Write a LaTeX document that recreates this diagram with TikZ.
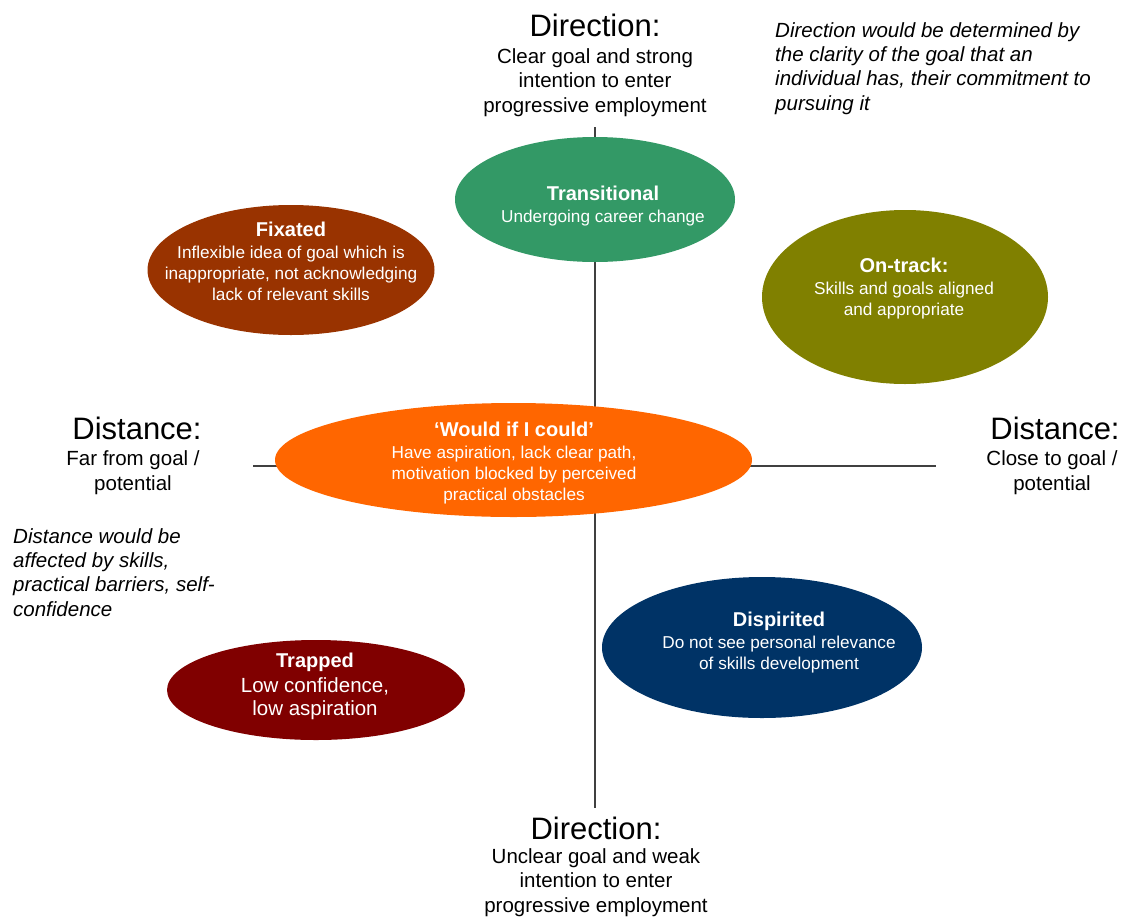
\documentclass[tikz,border=0pt]{standalone}
\usepackage{fontspec}
\setmainfont{Liberation Sans}
\usetikzlibrary{shapes.geometric}
\definecolor{cTrans}{HTML}{339966}
\definecolor{cFix}{HTML}{993300}
\definecolor{cOn}{HTML}{808000}
\definecolor{cWould}{HTML}{FF6600}
\definecolor{cDisp}{HTML}{003366}
\definecolor{cTrap}{HTML}{800000}
\definecolor{axisgray}{HTML}{404040}
\tikzset{
  blob/.style={ellipse, draw=none, inner sep=0pt, outer sep=0pt},
  head/.style={font=\fontsize{31}{36}\selectfont, inner sep=0pt, anchor=base},
  sub/.style={font=\fontsize{20.5}{24.5}\selectfont, inner sep=0pt, align=center, anchor=base},
  note/.style={font=\fontsize{20.5}{24.3}\selectfont\itshape, inner sep=0pt, align=left, anchor=base west},
  etext/.style={text=white, inner sep=0pt, align=center, anchor=base, font=\fontsize{17.2}{20.7}\selectfont},
  axisline/.style={draw=axisgray, line width=1.3pt}
}
\newcommand{\ttl}[1]{{\bfseries\fontsize{20}{20}\selectfont #1}}
\begin{document}
\begin{tikzpicture}[x=1pt,y=-1pt]
\useasboundingbox (0,0) rectangle (1121,918);
% axes
\coordinate (vtop) at (595,127);
\coordinate (vbot) at (595,808);
\coordinate (hleft) at (253,466);
\coordinate (hright) at (936,466);
\draw[axisline] (vtop) -- (vbot);
\draw[axisline] (hleft) -- (hright);

% ellipses
\node[blob, fill=cTrans, minimum width=280pt, minimum height=125pt] (trans) at (595,199.5) {};
\node[blob, fill=cFix, minimum width=287pt, minimum height=130pt] (fix) at (291,270) {};
\node[blob, fill=cOn, minimum width=286pt, minimum height=174pt] (ontrack) at (905,297) {};
\node[blob, fill=cWould, minimum width=477pt, minimum height=114pt] (would) at (513.5,460) {};
\node[blob, fill=cDisp, minimum width=320pt, minimum height=141pt] (disp) at (762,647.5) {};
\node[blob, fill=cTrap, minimum width=298pt, minimum height=100pt] (trap) at (316,690) {};

% ellipse texts (anchor = baseline of last line)
\node[etext] (transT) at (603,222) {\ttl{Transitional}\\[1pt]Undergoing career change};
\node[etext] (fixT) at (291,300) {\ttl{Fixated}\\[1pt]Inflexible idea of goal which is\\inappropriate, not acknowledging\\lack of relevant skills};
\node[etext] (onT) at (904,315) {\ttl{On-track:}\\[1pt]Skills and goals aligned\\and appropriate};
\node[etext] (wouldT) at (514,500) {\ttl{‘Would if I could’}\\[1pt]Have aspiration, lack clear path,\\motivation blocked by perceived\\practical obstacles};
\node[etext] (dispT) at (779,669) {\ttl{Dispirited}\\[1pt]Do not see personal relevance\\of skills development};
\node[etext, font=\fontsize{20.5}{22.5}\selectfont] (trapT) at (315,715) {\ttl{Trapped}\\[3pt]Low confidence,\\low aspiration};

% axis labels
\node[head] (dirTopH) at (595,36) {Direction:};
\node[sub] (dirTopB) at (595,112) {Clear goal and strong\\intention to enter\\progressive employment};
\node[note] (dirNote) at (775,110) {Direction would be determined by\\the clarity of the goal that an\\individual has, their commitment to\\pursuing it};
\node[head] (disLH) at (137,439) {Distance:};
\node[sub] (disLB) at (133,490) {Far from goal /\\potential};
\node[note] (disNote) at (13,616) {Distance would be\\affected by skills,\\practical barriers, self-\\confidence};
\node[head] (disRH) at (1055,439) {Distance:};
\node[sub] (disRB) at (1052,490) {Close to goal /\\potential};
\node[head] (dirBotH) at (596,839) {Direction:};
\node[sub] (dirBotB) at (596,912) {Unclear goal and weak\\intention to enter\\progressive employment};
\end{tikzpicture}
\end{document}
